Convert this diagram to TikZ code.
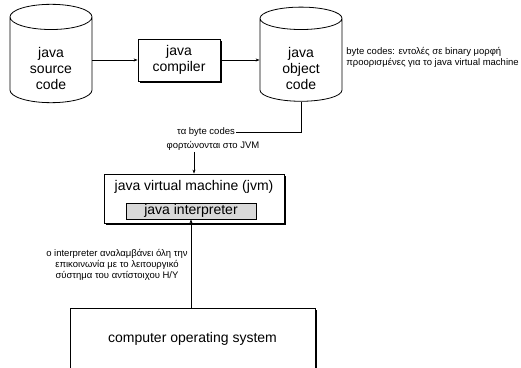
\documentclass[tikz,border=0pt]{standalone}
\usepackage{fontspec}
\setmainfont{Liberation Sans}
\usetikzlibrary{shapes.geometric, arrows.meta, shadows}

\begin{document}
\begin{tikzpicture}[x=1pt, y=-1pt, line width=0.8pt,
  big/.style={font=\fontsize{14}{16}\selectfont, align=center},
  small/.style={font=\fontsize{9.5}{11}\selectfont, inner sep=1pt},
  store/.style={draw, cylinder, shape border rotate=90, aspect=0.6,
    minimum width=82pt, minimum height=86pt, inner sep=0pt, big},
  box/.style={draw, fill=white, inner sep=0pt, big,
    drop shadow={shadow xshift=1.5pt, shadow yshift=-1.5pt, fill=black, opacity=1}},
  arr/.style={-{Stealth[length=4pt, width=3pt]}}
]
\useasboundingbox (0,0) rectangle (521,367);

% Ta dyo cylinders
\node[store] (src) at (51,60) {\rule{0pt}{28pt}java\\source\\code};
\node[store] (obj) at (301,60) {\rule{0pt}{28pt}java\\object\\code};

% Compiler
\node[box, minimum width=82pt, minimum height=42pt] (comp) at (179,60) {java\\compiler};

% Shmeiwsh gia ta byte codes
\node[small, anchor=west, align=left] (note) at (345,57)
  {byte codes: εντολές σε binary μορφή\\προορισμένες για το java virtual machine};

% JVM kai interpreter
\node[box, minimum width=180pt, minimum height=49pt] (jvm) at (194,198.5) {};
\node[big] (jvmtxt) at (194,187) {java virtual machine (jvm)};
\node[draw, fill=gray!30, minimum width=130pt, minimum height=16pt, inner sep=0pt, big]
  (interp) at (191,211) {java interpreter};

\node[small] (load1) at (206,132) {τα byte codes};
\node[small] (load2) at (213,146) {φορτώνονται στο JVM};

% Leitourgiko systhma
\node[box, minimum width=245pt, minimum height=62pt] (os) at (192.5,339)
  {computer operating system};

\node[small, align=center] (osnote) at (117,265)
  {ο interpreter αναλαμβάνει όλη την\\επικοινωνία με το λειτουργικό\\σύστημα του αντίστοιχου Η/Υ};

% Syndeseis
\draw[arr] (comp.west -| src.east) -- (comp.west);
\draw[arr] (comp.east) -- (comp.east -| obj.west);
\draw (obj.south) |- (load1.east);
\draw[arr] (load2.south -| jvm.north) -- (jvm.north);
\draw[arr, {Stealth[length=4pt, width=3pt]}-] (interp.south) -- (interp.south |- os.north);

\end{tikzpicture}
\end{document}
